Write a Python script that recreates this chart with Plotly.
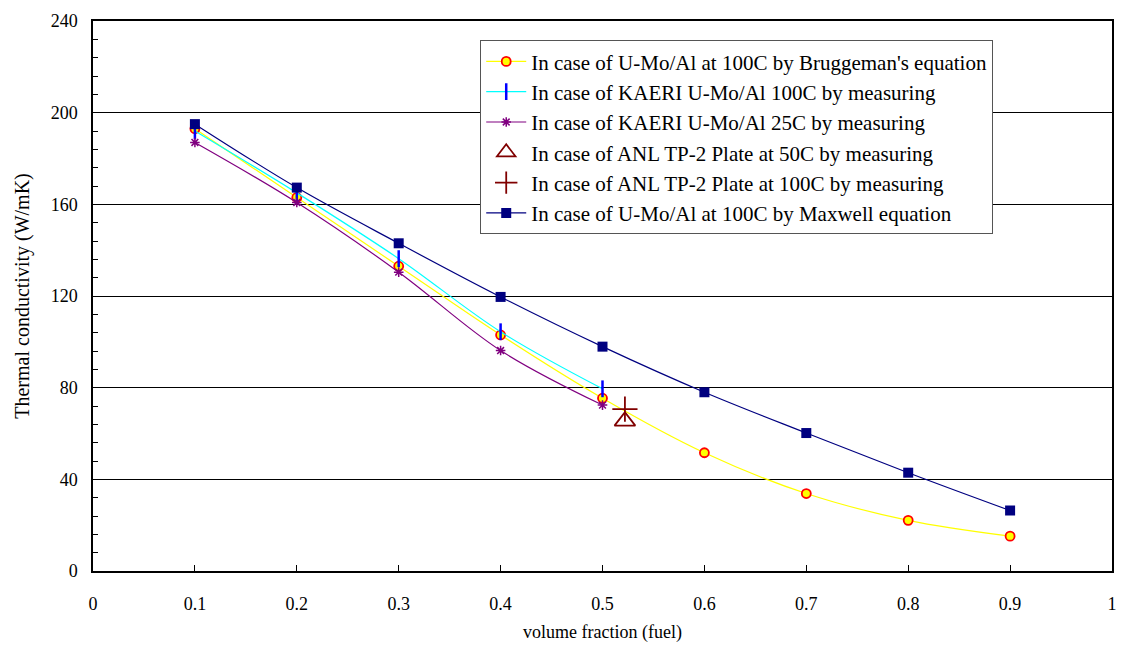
import plotly.graph_objects as go

x_frac = [0.1, 0.2, 0.3, 0.4, 0.5, 0.6, 0.7, 0.8, 0.9]
brugg = [193, 163, 133, 103, 75.4, 51.6, 33.8, 22.1, 15.2]
maxwell = [195, 167.3, 143, 119.6, 97.9, 78, 60.2, 42.9, 26.4]
x_kaeri = [0.1, 0.2, 0.3, 0.4, 0.5]
kaeri100 = [192, 165, 136.3, 104.4, 79.5]
kaeri25 = [187, 160.8, 130.4, 96.2, 72.4]
anl_x = [0.522]
anl50 = [65.4]
anl100 = [70.6]

FONT = "Times New Roman"

fig = go.Figure()
fig.add_trace(go.Scatter(
    x=x_frac, y=brugg, mode="lines+markers", line_shape="spline",
    name="In case of U-Mo/Al at 100C by Bruggeman's equation",
    line=dict(color="#FFFF00", width=1.2),
    marker=dict(symbol="circle", size=9, color="#FFFF00", line=dict(color="#FF0000", width=1.8))))
fig.add_trace(go.Scatter(
    x=x_kaeri, y=kaeri100, mode="lines+markers", line_shape="spline",
    name="In case of KAERI U-Mo/Al 100C by measuring",
    line=dict(color="#00FFFF", width=1.2),
    marker=dict(symbol="line-ns", size=12, line=dict(color="#0000FF", width=2.5))))
fig.add_trace(go.Scatter(
    x=x_kaeri, y=kaeri25, mode="lines+markers", line_shape="spline",
    name="In case of KAERI U-Mo/Al 25C by measuring",
    line=dict(color="#800080", width=1.2),
    marker=dict(symbol="asterisk", size=8, line=dict(color="#800080", width=1.5))))
fig.add_trace(go.Scatter(
    x=anl_x, y=anl50, mode="markers",
    name="In case of ANL TP-2 Plate at 50C by measuring",
    marker=dict(symbol="triangle-up-open", size=18, color="#800000", line=dict(color="#800000", width=1.8))))
fig.add_trace(go.Scatter(
    x=anl_x, y=anl100, mode="markers",
    name="In case of ANL TP-2 Plate at 100C by measuring",
    marker=dict(symbol="cross-thin", size=18, line=dict(color="#800000", width=1.8))))
fig.add_trace(go.Scatter(
    x=x_frac, y=maxwell, mode="lines+markers", line_shape="spline",
    name="In case of U-Mo/Al at 100C by Maxwell equation",
    line=dict(color="#000080", width=1.2),
    marker=dict(symbol="square", size=10, color="#000080")))

fig.update_layout(
    width=1128, height=652,
    margin=dict(l=93, r=11, t=17, b=81),
    paper_bgcolor="white", plot_bgcolor="white",
    font=dict(family=FONT, size=17, color="black"),
    legend=dict(x=0.38, y=0.965, xanchor="left", yanchor="top",
                bgcolor="white", bordercolor="#555555", borderwidth=1,
                font=dict(family=FONT, size=21), tracegroupgap=0,
                itemwidth=40),
    showlegend=True,
)
fig.update_xaxes(
    range=[0, 1], dtick=0.1, tick0=0, showgrid=False, zeroline=False,
    showline=True, linecolor="black", linewidth=1.5, mirror=True,
    ticks="inside", ticklen=6, tickcolor="black", ticklabelstandoff=16,
    tickfont=dict(family=FONT, size=18),
    title=dict(text="volume fraction (fuel)", font=dict(family=FONT, size=18), standoff=12),
)
fig.update_yaxes(
    range=[0, 240], dtick=40, tick0=0, showgrid=True, gridcolor="black", gridwidth=1,
    zeroline=False, showline=True, linecolor="black", linewidth=1.5, mirror=True,
    ticks="inside", ticklen=5, tickcolor="black", ticklabelstandoff=10,
    minor=dict(dtick=8, ticks="inside", ticklen=5, tickcolor="black", showgrid=False),
    tickfont=dict(family=FONT, size=18),
    title=dict(text="Thermal conductivity (W/mK)", font=dict(family=FONT, size=20), standoff=16),
)

fig.write_html("out.html")
